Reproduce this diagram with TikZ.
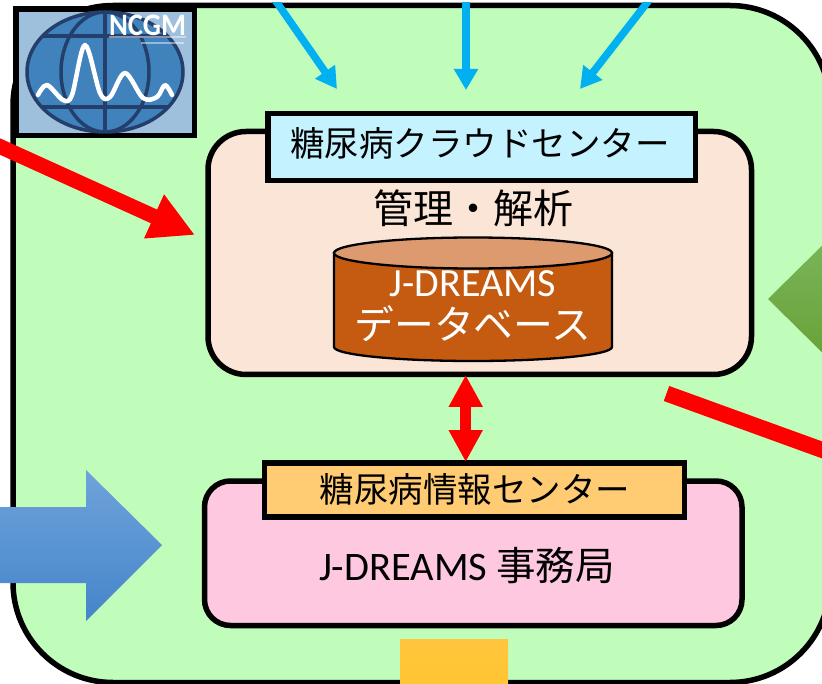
\documentclass[tikz,border=0pt]{standalone}
\usepackage{fontspec}
\usetikzlibrary{arrows.meta}
\setmainfont{Carlito}
\newfontfamily\cjk{Noto Sans CJK JP}
\newcommand{\cjkfs}[1]{\cjk\fontsize{#1}{#1}\selectfont}
\newcommand{\latfs}[1]{\fontsize{#1}{#1}\selectfont}
\definecolor{panelgreen}{HTML}{C1FDBA}
\definecolor{peach}{HTML}{FBE5D6}
\definecolor{skylabel}{HTML}{C4F2FF}
\definecolor{orangelabel}{HTML}{FFCC73}
\definecolor{pinkbox}{HTML}{FEC8E1}
\definecolor{dbbody}{HTML}{C55A11}
\definecolor{dbtop}{HTML}{DC9A6E}
\definecolor{cyanarrow}{HTML}{00B0F0}
\definecolor{logobg}{HTML}{9FC0DC}
\definecolor{logoglobe}{HTML}{3F82BC}
\definecolor{logonavy}{HTML}{243F6B}
\definecolor{bluetop}{HTML}{6FA3DA}
\definecolor{bluebot}{HTML}{4585CA}
\definecolor{greentop}{HTML}{7DB75F}
\definecolor{greenbot}{HTML}{64A032}
\definecolor{ambertop}{HTML}{FFC63E}
\definecolor{amberbot}{HTML}{FFC530}
\tikzset{
  panel/.style={draw=black,line width=5.5pt,inner sep=0pt,outer sep=0pt,rectangle},
  redarrow/.style={draw=red,line width=15pt},
  cyanlink/.style={draw=cyanarrow,line width=7.5pt,-{Triangle[length=21pt,width=23pt]}},
  textnode/.style={inner sep=0pt,outer sep=0pt,align=center},
}
\begin{document}
\begin{tikzpicture}[x=1pt,y=-1pt]
\path[use as bounding box,fill=white] (0,0) rectangle (822,684);
\clip (0,3) rectangle (822,684);
% outer panel
\node[panel,fill=panelgreen,rounded corners=100pt,minimum width=817pt,minimum height=677pt] (outer) at (421.5,344) {};
% cyan arrows
\coordinate (ca1) at (271.7,-5);
\coordinate (ct1) at (337,89);
\coordinate (ca2) at (466,-5);
\coordinate (ct2) at (466,90);
\coordinate (ca3) at (653,-5);
\coordinate (ct3) at (580,89);
\draw[cyanlink] (ca1) -- (ct1);
\draw[cyanlink] (ca2) -- (ct2);
\draw[cyanlink] (ca3) -- (ct3);
% logo
\node[panel,fill=logobg,minimum width=178.5pt,minimum height=126.5pt] (logo) at (105.25,72.25) {};
\fill[logoglobe] (105,72) ellipse [x radius=78,y radius=60];
\begin{scope}
\clip (105,72) ellipse [x radius=78,y radius=60];
\draw[logonavy,line width=3.5pt] (20,36) -- (190,36);
\draw[logonavy,line width=3.5pt] (20,107) -- (190,107);
\draw[logonavy,line width=3.5pt] (105,10) -- (105,135);
\draw[logonavy,line width=3.5pt] (105,72) ellipse [x radius=44,y radius=60];
\end{scope}
\draw[logonavy,line width=3.5pt] (105,72) ellipse [x radius=78,y radius=60];
\draw[white,line width=4.5pt,line cap=round,line join=round] plot[smooth,tension=0.55] coordinates {(38,95) (47,85) (63,100) (72,95) (85,45) (100,93) (110,97) (125,73) (143,98) (157,97) (165,85) (172,95)};
\node[textnode,text=white] (ncgm) at (147.5,25) {\scalebox{1.1}[1.2]{\latfs{26}\bfseries NCGM}};
\fill[white,opacity=0.45] (109,36) rectangle (186,38);
\fill[white,opacity=0.45] (141,42) rectangle (184,44);
% cloud centre
\node[panel,fill=peach,rounded corners=38pt,minimum width=543.5pt,minimum height=243pt] (cloud) at (479.75,253) {};
\node[panel,fill=skylabel,minimum width=427.5pt,minimum height=66.8pt] (cloudlabel) at (481.75,147.1) {};
\node[textnode] (cloudtext) at (480,143) {\cjkfs{34.5}糖尿病クラウドセンター};
\node[textnode] (manage) at (473.5,208) {\cjkfs{40}管理・解析};
% database cylinder
\draw[black,fill=dbbody,line width=2.3pt] (334,253) -- (334,347) arc[start angle=180,end angle=0,x radius=139,y radius=14] -- (612,253) -- cycle;
\draw[black,fill=dbtop,line width=2.3pt] (473,253) ellipse [x radius=139,y radius=15.5];
\node[textnode,text=white] (dbname) at (473,284) {\latfs{40}J-DREAMS};
\node[textnode,text=white] (dbtext) at (473,323.5) {\cjkfs{39.8}データベース};
% info centre
\node[panel,fill=pinkbox,rounded corners=26pt,minimum width=537.5pt,minimum height=144.5pt] (office) at (473.25,553.25) {};
\node[panel,fill=orangelabel,minimum width=420.2pt,minimum height=54pt] (infolabel) at (474.6,490) {};
\node[textnode] (infotext) at (475,489) {\cjkfs{34.5}糖尿病情報センター};
\node[textnode] (officetext) at (467,566) {\latfs{40.5}J-DREAMS \cjkfs{39.5}事務局};
% double arrow
\coordinate (dtop) at (465.7,375);
\coordinate (dbot) at (465.7,462);
\draw[draw=red,line width=11pt,{Triangle[length=32pt,width=32pt]}-{Triangle[length=32pt,width=32pt]}] (dtop) -- (dbot);
% big red arrows
\coordinate (ra) at (-10,142);
\coordinate (rb) at (195,235);
\draw[redarrow,-{Triangle[length=45pt,width=45pt]}] (ra) -- (rb);
\coordinate (rc) at (666.5,393.5);
\coordinate (rd) at (835,454.6);
\draw[draw=red,line width=16pt] (rc) -- (rd);
% block arrows
\shade[top color=bluetop,bottom color=bluebot] (-5,507) -- (86,507) -- (86,470) -- (162,545) -- (86,621) -- (86,583) -- (-5,583) -- cycle;
\shade[top color=greentop,bottom color=greenbot] (768,299) -- (844,224) -- (844,374) -- cycle;
\shade[top color=ambertop,bottom color=amberbot] (400,639) rectangle (508,690);
\end{tikzpicture}
\end{document}
